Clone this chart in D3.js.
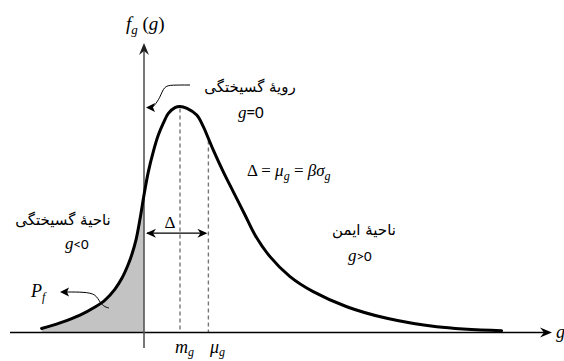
<!DOCTYPE html>
<html>
<head>
<meta charset="utf-8">
<script src="https://cdn.jsdelivr.net/npm/d3@7"></script>
<style>
  body { margin: 0; background: #fff; }
  svg { display: block; }
  .math { font-family: "Liberation Serif", "DejaVu Serif", serif; font-style: italic; }
  .fa { font-family: "DejaVu Sans", sans-serif; }
</style>
</head>
<body>
<div id="chart"></div>
<script>
// density of the limit-state function g
const gVals = [-2.56, -2.10, -1.60, -1.225, -0.975, -0.725, -0.55, -0.40, -0.30, -0.20, -0.10, 0,
               0.108, 0.233, 0.358, 0.483, 0.608, 0.775, 0.90, 1.075, 1.318, 1.483, 1.608, 1.733,
               1.983, 2.233, 2.525, 2.775, 3.15, 3.65, 4.23, 5.07, 6.07, 7.32, 8.94];
const fVals = [0.014, 0.033, 0.060, 0.088, 0.112, 0.150, 0.188, 0.233, 0.271, 0.320, 0.392, 0.475,
               0.555, 0.625, 0.682, 0.723, 0.757, 0.777, 0.781, 0.774, 0.751, 0.711, 0.671, 0.630,
               0.555, 0.486, 0.406, 0.337, 0.262, 0.193, 0.141, 0.089, 0.049, 0.020, 0.006];

const modeG = 0.90;   // m_g
const meanG = 1.61;   // mu_g
const deltaF = 0.343; // height of the delta arrow

const width = 564, height = 361;

const x = d3.scaleLinear().domain([-3.35, 10.25]).range([10, 554]);
const y = d3.scaleLinear().domain([0, 1]).range([332.5, 43]);

const pts = gVals.map((g, i) => ({ g: g, f: fVals[i] }));
const fAt = g => {
  const i = d3.bisector(d => d.g).left(pts, g);
  if (i <= 0) return pts[0].f;
  const a = pts[i - 1], b = pts[i];
  return a.f + (b.f - a.f) * (g - a.g) / (b.g - a.g);
};

const svg = d3.select('#chart').append('svg')
  .attr('width', width)
  .attr('height', height);

// failure probability shade
const area = d3.area()
  .x(d => x(d.g))
  .y0(y(0))
  .y1(d => y(d.f))
  .curve(d3.curveCatmullRom);

svg.append('path')
  .datum(pts.filter(d => d.g <= 0))
  .attr('d', area)
  .attr('fill', '#c3c3c3');

// dashed lines at mode and mean
[modeG, meanG].forEach(g => {
  svg.append('line')
    .attr('x1', x(g)).attr('x2', x(g))
    .attr('y1', y(fAt(g)) + 2).attr('y2', y(0))
    .attr('stroke', '#777')
    .attr('stroke-width', 1.4)
    .attr('stroke-dasharray', '4,3');
});

// x axis
svg.append('line')
  .attr('x1', 10).attr('x2', x(10.2) - 6)
  .attr('y1', y(0)).attr('y2', y(0))
  .attr('stroke', '#000').attr('stroke-width', 1.5);
svg.append('path')
  .attr('d', `M${x(10.2)},${y(0)} L${x(10.2) - 12},${y(0) - 5} L${x(10.2) - 8},${y(0)} L${x(10.2) - 12},${y(0) + 5} Z`)
  .attr('fill', '#000');

// y axis (g = 0)
svg.append('line')
  .attr('x1', x(0)).attr('x2', x(0))
  .attr('y1', 50).attr('y2', 348)
  .attr('stroke', '#555').attr('stroke-width', 1.6);
svg.append('path')
  .attr('d', `M${x(0)},43 L${x(0) - 5},55 L${x(0)},51 L${x(0) + 5},55 Z`)
  .attr('fill', '#222');

// density curve
const line = d3.line()
  .x(d => x(d.g))
  .y(d => y(d.f))
  .curve(d3.curveCatmullRom);

svg.append('path')
  .datum(pts)
  .attr('d', line)
  .attr('fill', 'none')
  .attr('stroke', '#000')
  .attr('stroke-width', 3)
  .attr('stroke-linecap', 'round');

// delta double arrow
const dy = y(deltaF);
svg.append('line')
  .attr('x1', x(0) + 3).attr('x2', x(meanG) - 3)
  .attr('y1', dy).attr('y2', dy)
  .attr('stroke', '#000').attr('stroke-width', 1.3);
const head = (tx, dir) => `M${tx},${dy} L${tx + dir * 10},${dy - 4.5} L${tx + dir * 7},${dy} L${tx + dir * 10},${dy + 4.5} Z`;
svg.append('path').attr('d', head(x(0) + 2, 1)).attr('fill', '#000');
svg.append('path').attr('d', head(x(meanG) - 1, -1)).attr('fill', '#000');

// leader lines
const leader = d3.line().curve(d3.curveBasis);
svg.append('path')
  .attr('d', leader([[190, 85], [172, 85], [164, 86], [160, 98], [154, 106], [152, 107.5]]))
  .attr('fill', 'none').attr('stroke', '#000').attr('stroke-width', 1);
svg.append('path')
  .attr('d', 'M146,107.5 L155,103 L153,107.5 L155,112 Z')
  .attr('fill', '#000');

svg.append('path')
  .attr('d', leader([[66, 292], [84, 292], [96, 294], [100, 303], [105, 307], [109, 308]]))
  .attr('fill', 'none').attr('stroke', '#000').attr('stroke-width', 1);
svg.append('path')
  .attr('d', 'M60,292 L69,287.5 L67,292 L69,296.5 Z')
  .attr('fill', '#000');

// text
const sub = (t, s, dyv) => t.append('tspan').attr('font-size', s).attr('dy', dyv);

let t = svg.append('text').attr('class', 'math').attr('x', 126).attr('y', 30).attr('font-size', 19);
t.append('tspan').text('f');
sub(t, 13, 4).text('g');
t.append('tspan').attr('dy', -4).style('font-style', 'normal').text(' (');
t.append('tspan').text('g');
t.append('tspan').style('font-style', 'normal').text(')');

svg.append('text').attr('class', 'fa').attr('x', 250).attr('y', 92)
  .attr('text-anchor', 'middle').attr('font-size', 15).attr('direction', 'rtl')
  .text('رویهٔ گسیختگی');

const eqLabel = (px, py, rel) => {
  const e = svg.append('text').attr('x', px).attr('y', py).attr('font-size', 17);
  e.append('tspan').attr('class', 'math').text('g');
  e.append('tspan').attr('font-family', 'Carlito, "Liberation Sans", sans-serif').attr('font-size', rel === '=' ? 17 : 15).text(rel + '0');
};
eqLabel(238, 118, '=');
eqLabel(65, 249, '<');
eqLabel(348, 261, '>');

let d = svg.append('text').attr('class', 'math').attr('x', 247).attr('y', 176).attr('font-size', 17);
d.append('tspan').style('font-style', 'normal').text('Δ = ');
d.append('tspan').text('μ');
sub(d, 12, 4).text('g');
d.append('tspan').attr('dy', -4).style('font-style', 'normal').text(' = ');
d.append('tspan').text('βσ');
sub(d, 12, 4).text('g');

svg.append('text').attr('class', 'math').attr('x', 170).attr('y', 228)
  .attr('text-anchor', 'middle').attr('font-size', 17).style('font-style', 'normal').text('Δ');

svg.append('text').attr('class', 'fa').attr('x', 63).attr('y', 225)
  .attr('text-anchor', 'middle').attr('font-size', 15).attr('direction', 'rtl')
  .text('ناحیهٔ گسیختگی');

svg.append('text').attr('class', 'fa').attr('x', 364).attr('y', 235)
  .attr('text-anchor', 'middle').attr('font-size', 15).attr('direction', 'rtl')
  .text('ناحیهٔ ایمن');

let p = svg.append('text').attr('class', 'math').attr('x', 31).attr('y', 297).attr('font-size', 18);
p.append('tspan').text('P');
sub(p, 12, 4).text('f');

let m = svg.append('text').attr('class', 'math').attr('x', 175).attr('y', 353).attr('font-size', 18);
m.append('tspan').text('m');
sub(m, 12, 3).text('g');
let u = svg.append('text').attr('class', 'math').attr('x', 210).attr('y', 353).attr('font-size', 18);
u.append('tspan').text('μ');
sub(u, 12, 3).text('g');

svg.append('text').attr('class', 'math').attr('x', 556).attr('y', 338).attr('font-size', 18).text('g');
</script>
</body>
</html>
